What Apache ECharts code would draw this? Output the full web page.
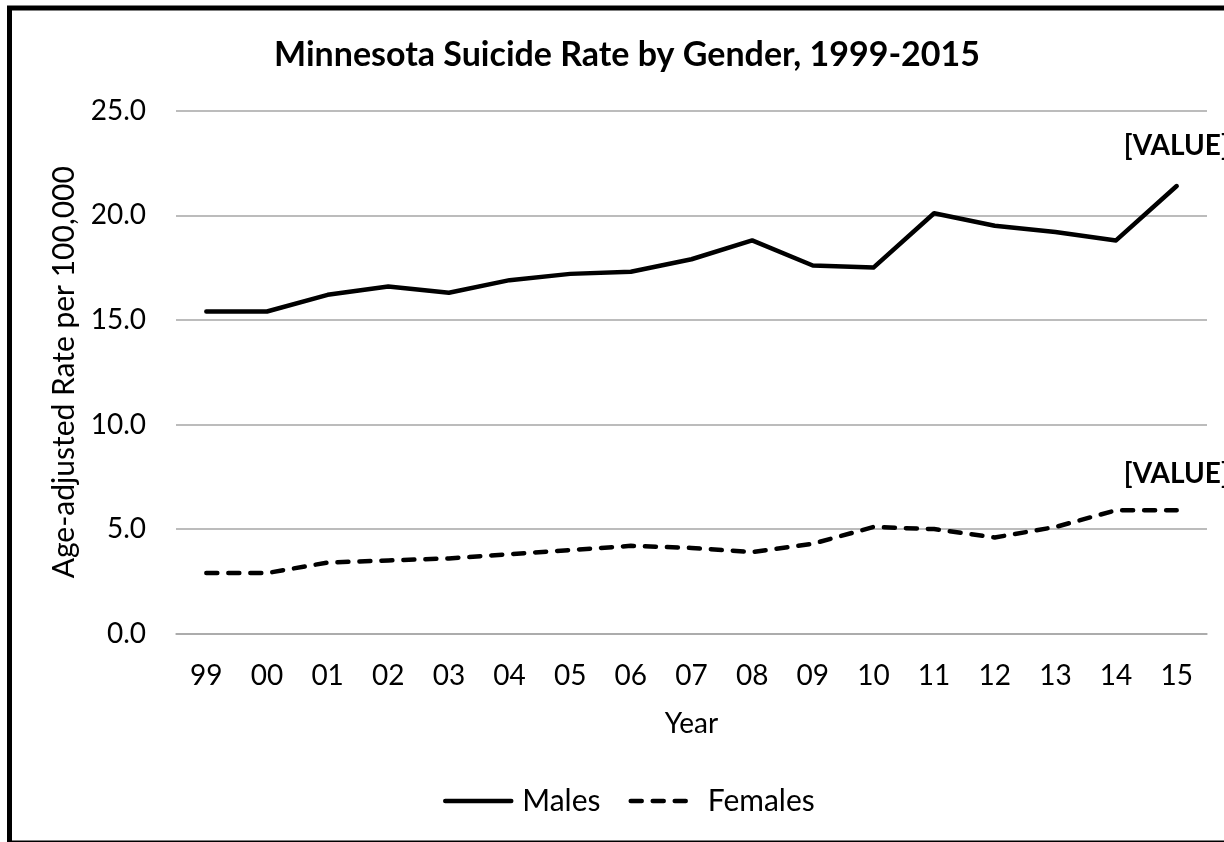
<!DOCTYPE html>
<html><head><meta charset="utf-8">
<script src="https://cdn.jsdelivr.net/npm/echarts@6/dist/echarts.min.js"></script>
<style>html,body{margin:0;padding:0;background:#fff}#c{width:1224px;height:842px}</style>
</head><body><div id="c"></div>
<script>
const years = ['99','00','01','02','03','04','05','06','07','08','09','10','11','12','13','14','15'];
const males = [15.4,15.4,16.2,16.6,16.3,16.9,17.2,17.3,17.9,18.8,17.6,17.5,20.1,19.5,19.2,18.8,21.4];
const females = [2.9,2.9,3.4,3.5,3.6,3.8,4.0,4.2,4.1,3.9,4.3,5.1,5.0,4.6,5.1,5.9,5.9];
const yTicks = [0,5,10,15,20,25];

const FONT = 'Lato';
const solidLine = {color:'#000', width:4.5, type:'solid', cap:'round', join:'round'};
const dashLine = {color:'#000', width:4.5, type:[11,11], cap:'round', join:'round'};
function withEndLabel(arr, dist){
  return arr.map((v,i)=> i===arr.length-1 ? {value:v, label:{show:true, position:'top', distance:dist, formatter:'[VALUE]', fontFamily:FONT, fontWeight:'bold', fontSize:28, color:'#000'}} : v);
}
const chart = echarts.init(document.getElementById('c'), null, {renderer:'canvas'});
chart.setOption({
  animation:false,
  backgroundColor:'#fff',
  title:{text:'Minnesota Suicide Rate by Gender, 1999-2015', left:622, textAlign:'center', top:33,
    textStyle:{fontFamily:FONT, fontWeight:'bold', fontSize:34, color:'#000'}},
  graphic:[{type:'rect', shape:{x:9.5, y:8, width:1400, height:835}, style:{fill:null, stroke:'#000', lineWidth:5}, silent:true, z:100}],
  grid:{left:176, right:17, top:110.7, bottom:208.3},
  legend:{bottom:21, left:438, itemWidth:66, itemHeight:2, itemGap:28,
    itemStyle:{opacity:0, borderWidth:0},
    lineStyle:{width:4.5, cap:'round'},
    textStyle:{fontFamily:FONT, fontSize:30, color:'#000', padding:[0,0,0,6]},
    data:[{name:'Males', lineStyle:solidLine}, {name:'Females', lineStyle:dashLine}]},
  xAxis:{type:'category', data:years, boundaryGap:true,
    axisLine:{show:true, lineStyle:{color:'#a6a6a6', width:1.5}}, axisTick:{show:false},
    axisLabel:{fontFamily:FONT, fontSize:28, color:'#000', margin:28},
    name:'Year', nameLocation:'middle', nameGap:76,
    nameTextStyle:{fontFamily:FONT, fontSize:28, color:'#000'}},
  yAxis:{type:'value', min:yTicks[0], max:yTicks[yTicks.length-1], interval:5,
    axisLine:{show:false}, axisTick:{show:false},
    splitLine:{lineStyle:{color:'#a6a6a6', width:1.5}},
    axisLabel:{fontFamily:FONT, fontSize:28, color:'#000', margin:30, formatter:v=>v.toFixed(1)},
    name:'Age-adjusted Rate per 100,000', nameLocation:'middle', nameGap:95,
    nameTextStyle:{fontFamily:FONT, fontSize:30, color:'#000'}},
  series:[
    {name:'Males', type:'line', data:withEndLabel(males,26), symbol:'circle', symbolSize:0, showSymbol:true, showAllSymbol:true, color:'#000',
      lineStyle:solidLine},
    {name:'Females', type:'line', data:withEndLabel(females,22), symbol:'circle', symbolSize:0, showSymbol:true, showAllSymbol:true, color:'#000',
      lineStyle:dashLine}
  ]
});
</script></body></html>
